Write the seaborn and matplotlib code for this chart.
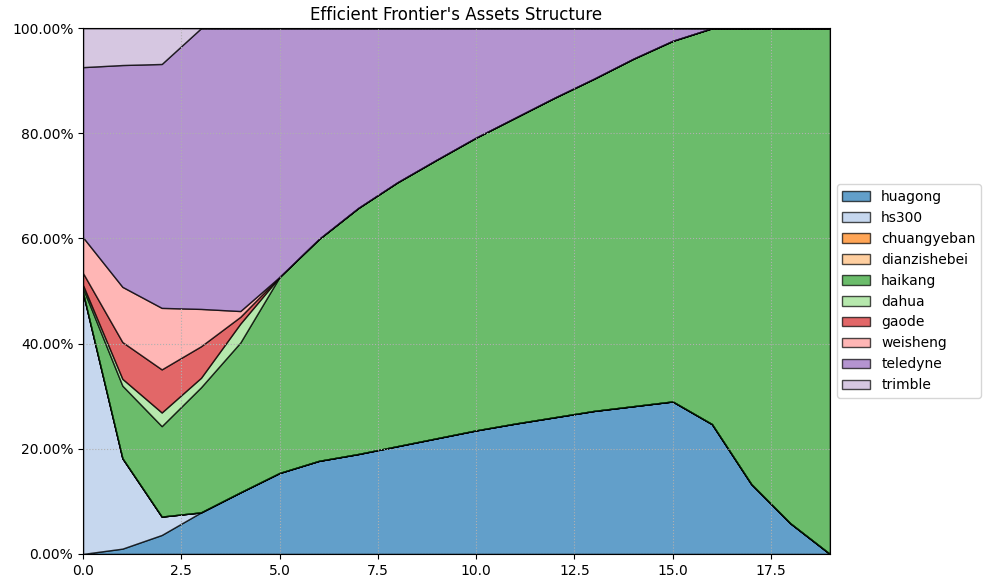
import matplotlib
matplotlib.use("Agg")
import matplotlib.pyplot as plt
from matplotlib.ticker import PercentFormatter
import seaborn as sns
import numpy as np

# weights along the efficient frontier (percent)
points = list(range(20))
assets = ["huagong", "hs300", "chuangyeban", "dianzishebei", "haikang",
          "dahua", "gaode", "weisheng", "teledyne", "trimble"]

huagong = [0.0, 1.0, 3.6, 7.9, 11.7, 15.4, 17.7, 19.0, 20.5, 22.0,
           23.5, 24.8, 26.0, 27.2, 28.1, 29.0, 24.7, 13.3, 5.8, 0.0]
hs300 = [49.6, 17.2, 3.5, 0.0, 0, 0, 0, 0, 0, 0, 0, 0, 0, 0, 0, 0, 0, 0, 0, 0]
chuangyeban = [0] * 20
dianzishebei = [0] * 20
haikang = [0.9, 13.8, 17.2, 23.8, 28.5, 37.3, 42.2, 46.8, 50.2, 53.0,
           55.7, 58.2, 60.8, 63.2, 66.1, 68.6, 75.3, 86.7, 94.2, 100.0]
dahua = [0.6, 1.3, 2.6, 1.8, 3.6, 0, 0, 0, 0, 0, 0, 0, 0, 0, 0, 0, 0, 0, 0, 0]
gaode = [2.3, 7.0, 8.2, 6.0, 1.3, 0, 0, 0, 0, 0, 0, 0, 0, 0, 0, 0, 0, 0, 0, 0]
weisheng = [6.8, 10.5, 11.7, 7.1, 1.1, 0, 0, 0, 0, 0, 0, 0, 0, 0, 0, 0, 0, 0, 0, 0]
teledyne = [32.4, 42.2, 46.4, 53.4, 53.8, 47.3, 40.1, 34.2, 29.3, 25.0,
            20.8, 17.0, 13.2, 9.6, 5.8, 2.4, 0, 0, 0, 0]
trimble = [7.4, 7.0, 6.8, 0, 0, 0, 0, 0, 0, 0, 0, 0, 0, 0, 0, 0, 0, 0, 0, 0]

weights = np.array([huagong, hs300, chuangyeban, dianzishebei, haikang,
                    dahua, gaode, weisheng, teledyne, trimble]) / 100.0

colors = sns.color_palette("tab20", 10)

fig, ax = plt.subplots(figsize=(10.01, 5.88), dpi=100)
fig.subplots_adjust(left=0.083, right=0.829, top=0.952, bottom=0.058)

ax.stackplot(points, weights, labels=assets, colors=colors,
             alpha=0.7, edgecolor="black", linewidth=1)

ax.set_xlim(0, 19)
ax.set_ylim(0, 1)
ax.yaxis.set_major_formatter(PercentFormatter(xmax=1, decimals=2))
ax.grid(True, linestyle=":", color="#b0b0b0", linewidth=0.8)
ax.set_title("Efficient Frontier's Assets Structure")
ax.legend(loc="center left", bbox_to_anchor=(1.0, 0.5))

plt.savefig("out.png", dpi=100)
plt.close()
